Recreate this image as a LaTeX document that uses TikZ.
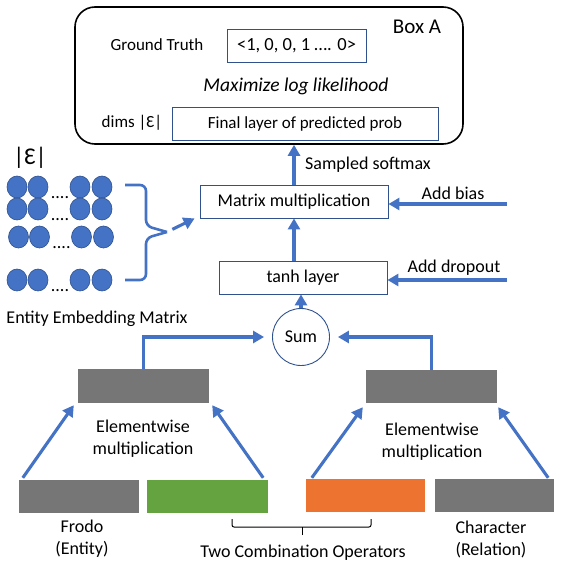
\documentclass[tikz,border=0pt]{standalone}
\usepackage{fontspec}
\setmainfont{Carlito}
\usepackage{xcolor}
\usetikzlibrary{arrows.meta,positioning,shapes.geometric}

\definecolor{flowblue}{HTML}{4472C4}
\definecolor{edgeblue}{HTML}{2F528F}
\definecolor{blockgray}{HTML}{767676}
\definecolor{opgreen}{HTML}{64A33F}
\definecolor{oporange}{HTML}{EC7430}

\begin{document}
\begin{tikzpicture}[x=1pt,y=-1pt,font=\fontsize{18}{22}\selectfont,
  main node/.style={rectangle,draw=edgeblue,line width=0.9pt,minimum height=33pt,inner sep=0pt},
  block/.style={rectangle,minimum height=33pt,minimum width=120pt,inner sep=0pt},
  flow/.style={draw=flowblue,line width=3.1pt,-{Triangle[length=11pt,width=12pt]}},
  emb node/.style={ellipse,fill=flowblue,draw=edgeblue,line width=0.6pt,minimum width=20pt,minimum height=22pt,inner sep=0pt},
  box text/.style={font=\fontsize{17}{20}\selectfont},
  txt/.style={align=center,inner sep=0pt}]
  \useasboundingbox (0,0) rectangle (561,569);

  % Box A
  \node [draw,line width=1.6pt,rounded corners=20pt,minimum width=388pt,minimum height=137pt](BoxA) at (269,75.5) {};
  \node [font=\fontsize{21}{24}\selectfont](BoxAname) at (417,27) {Box A};
  \node [box text](GTlabel) at (157,45) {Ground Truth};
  \node [main node,font=\fontsize{18.5}{20}\selectfont,minimum width=139pt](GT) at (296.5,45.5) {<1, 0, 0, 1 …. 0>};
  \node [font=\fontsize{19.5}{22}\selectfont\itshape](MaxLL) at (296,86) {Maximize log likelihood};
  \node [box text](Dims) at (132,123) {dims |Ɛ|};
  \node [main node,box text,minimum width=266pt](Final) at (305,123.5) {Final layer of predicted prob};

  % middle column
  \node [main node,minimum width=188pt](MatMul) at (294,201.5) {Matrix multiplication};
  \node [main node,minimum width=168pt](Tanh) at (303,277.5) {tanh layer};
  \node [circle,draw=edgeblue,line width=0.9pt,minimum size=57pt,inner sep=0pt](Sum) at (301,337) {Sum};
  \node (Softmax) at (368,165) {Sampled softmax};
  \node (Bias) at (453,193) {Add bias};
  \node (Dropout) at (454,268) {Add dropout};
  \coordinate (BiasIn) at (507,204);
  \coordinate (DropIn) at (507,280);

  % entity embedding matrix
  \node [font=\fontsize{24}{26}\selectfont](EpsSize) at (30,158) {|Ɛ|};
  \foreach \y/\dx in {187/0,209/0,237/1.5,280/0} {
    \foreach \x in {17,38,80,102}
      \node [emb node](E-\y-\x) at (\x+\dx,\y) {};
    \node [anchor=base,inner sep=0pt](Dots-\y) at (60+\dx,\y+11) {....};
  }
  \node (EmbMatrix) at (97,319) {Entity Embedding Matrix};
  \coordinate (BraceTip) at (167,232);
  \draw [flowblue,line width=2.6pt,rounded corners=6pt] (125,185) -- (146,185) -- (146,226) -- (BraceTip);
  \draw [flowblue,line width=2.6pt,rounded corners=6pt] (125,280) -- (146,280) -- (146,238) -- (BraceTip);

  % products and inputs
  \node [block,fill=blockgray,minimum width=131pt,minimum height=34pt](ProdL) at (143.5,386) {};
  \node [block,fill=blockgray,minimum width=131pt](ProdR) at (431.5,386.5) {};
  \node [block,fill=blockgray](Frodo) at (79,496.5) {};
  \node [block,fill=opgreen,minimum width=121pt](OpG) at (207.5,496.5) {};
  \node [block,fill=oporange,minimum width=119pt](OpO) at (365.5,495.5) {};
  \node [block,fill=blockgray,minimum width=119pt](Char) at (494.5,495.5) {};
  \node [txt](MultL) at (143,439) {Elementwise\\multiplication};
  \node [txt](MultR) at (432,441.5) {Elementwise\\multiplication};
  \node [txt](FrodoLabel) at (82,538.5) {Frodo\\(Entity)};
  \node [txt](CharLabel) at (491,539.5) {Character\\(Relation)};
  \node (OpsLabel) at (303,553) {Two Combination Operators};
  \coordinate (OpsTick) at (302,535);
  \draw [line width=1pt,rounded corners=2pt] (232,519) -- (232,527) -- (371,527) -- (371,519);
  \draw [line width=1pt] (OpsTick) -- (302,527);

  % connectors
  \draw [flow] ([xshift=4pt,yshift=2pt]Frodo.north west) -- ([xshift=-4pt,yshift=-2pt]ProdL.south west);
  \draw [flow] ([xshift=-5pt,yshift=2pt]OpG.north east) -- ([xshift=3pt,yshift=-2pt]ProdL.south east);
  \draw [flow] ([xshift=6pt,yshift=1pt]OpO.north west) -- ([xshift=-3pt,yshift=-4pt]ProdR.south west);
  \draw [flow] ([xshift=-6pt,yshift=1pt]Char.north east) -- ([xshift=1pt,yshift=-4pt]ProdR.south east);
  \draw [flow,shorten >=8pt] (ProdL.north) |- (Sum.west);
  \draw [flow,shorten >=8pt] (ProdR.north) |- (Sum.east);
  \draw [flow] (Sum.north) -- (Sum.north |- Tanh.south);
  \draw [flow] (MatMul.south |- Tanh.north) -- (MatMul.south);
  \draw [flow] (MatMul.north) -- (MatMul.north |- BoxA.south);
  \draw [flow] (BiasIn) -- (BiasIn -| MatMul.east);
  \draw [flow] (DropIn) -- (DropIn -| Tanh.east);
  \draw [flow,shorten <=6pt] (BraceTip) -- ([xshift=-5pt]MatMul.south west);
\end{tikzpicture}
\end{document}
